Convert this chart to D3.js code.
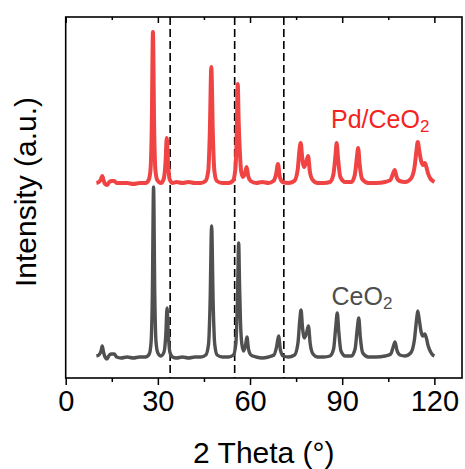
<!DOCTYPE html>
<html>
<head>
<meta charset="utf-8">
<script src="https://cdn.jsdelivr.net/npm/d3@7"></script>
<style>
  body { margin: 0; background: #fff; }
  svg { display: block; font-family: Arial, "Liberation Sans", sans-serif; }
</style>
</head>
<body>
<script>
// XRD patterns (2 theta in degrees, intensity in a.u.)
const ceo2Theta = [10.0, 10.8, 11.5, 11.9, 12.3, 12.8, 13.4, 14.2, 15.0, 15.8, 16.6, 18, 20, 22, 24, 26,
  27.2, 27.8, 28.2, 28.6, 29.0, 29.4, 30.0, 31.0, 32.0, 32.6, 33.0, 33.4, 33.9, 34.8, 36, 38, 40, 42, 44,
  45.6, 46.5, 47.0, 47.5, 48.0, 48.5, 49.3, 51, 53, 54.6, 55.4, 55.9, 56.3, 56.6, 56.9, 57.3, 57.9, 58.5,
  59.0, 59.5, 60.3, 62, 64, 66, 67.8, 68.7, 69.3, 69.9, 70.8, 72.5, 74.5, 75.6, 76.2, 76.6, 77.1, 77.7,
  78.4, 79.0, 79.6, 80.5, 82, 84, 86, 87.2, 87.9, 88.4, 88.9, 89.6, 91, 93, 94.2, 94.9, 95.4, 95.9, 96.7,
  98.5, 101, 104, 105.8, 106.6, 107.2, 107.8, 108.8, 110.5, 112.3, 113.5, 114.2, 114.6, 115.1, 115.7,
  116.3, 116.9, 117.4, 118.0, 118.8, 119.5, 120.0];
const ceo2Int = [2, 3, 7, 12, 6, 1, -1, 3, 4, 4, 1, 0, 1, 0, 1, 1,
  4, 16, 62, 171, 62, 16, 5, 2, 6, 24, 50, 24, 6, 1, 0, 1, 0, 1, 1,
  3, 14, 55, 132, 55, 14, 3, 1, 1, 3, 15, 57, 115, 72, 36, 15, 7, 12,
  21, 9, 3, 1, 0, 1, 3, 12, 22, 8, 2, 1, 3, 15, 38, 48, 30, 20,
  25, 32, 14, 4, 1, 1, 2, 9, 31, 45, 26, 7, 2, 2, 9, 29, 40, 21, 5,
  1, 1, 2, 4, 11, 16, 8, 3, 2, 5, 18, 38, 47, 38, 26,
  22, 24, 20, 12, 6, 3, 2];

const pdTheta = [10.0, 10.8, 11.5, 11.9, 12.3, 12.8, 13.4, 14.2, 15.0, 15.8, 16.6, 18, 20, 22, 24, 26,
  27.0, 27.6, 28.0, 28.4, 28.8, 29.2, 29.8, 31.0, 31.9, 32.5, 32.9, 33.3, 33.8, 34.8, 36, 38, 40, 42, 44,
  45.5, 46.4, 46.9, 47.4, 47.9, 48.4, 49.2, 51, 53, 54.4, 55.2, 55.7, 56.0, 56.3, 56.7, 57.1, 57.7, 58.4,
  58.9, 59.4, 60.2, 62, 64, 66, 67.6, 68.5, 69.1, 69.7, 70.6, 72.5, 74.4, 75.5, 76.1, 76.5, 77.0, 77.6,
  78.3, 78.9, 79.5, 80.4, 82, 84, 86, 87.1, 87.8, 88.2, 88.7, 89.4, 91, 93, 94.1, 94.8, 95.2, 95.7, 96.5,
  98.5, 101, 104, 105.7, 106.5, 107.1, 107.7, 108.7, 110.5, 112.3, 113.5, 114.2, 114.6, 115.1, 115.7,
  116.3, 116.9, 117.4, 118.0, 118.8, 119.5, 120.0];
const pdInt = [0, 1, 4, 7, 3, -1, -2, 1, 2, 2, 0, 0, 0, -1, 0, 0,
  3, 13, 54, 151, 54, 13, 3, 0, 4, 21, 45, 21, 4, 0, 1, 0, 1, 0, 0,
  2, 12, 49, 116, 49, 12, 2, 0, 0, 2, 13, 52, 99, 62, 31, 12, 6, 10,
  16, 7, 2, 0, 1, 0, 2, 9, 19, 6, 1, 0, 2, 13, 33, 40, 25, 16,
  21, 27, 11, 3, 0, 0, 1, 8, 27, 40, 23, 6, 1, 1, 8, 26, 35, 18, 4,
  0, 0, 1, 3, 9, 13, 6, 2, 1, 4, 15, 33, 41, 32, 22,
  18, 20, 16, 9, 4, 2, 1];
const pdOffset = 175;

const xTicks = [0, 30, 60, 90, 120];
const xMinorTicks = [15, 45, 75, 105];
const dashedAt = [34, 55, 71];

const W = 465, H = 469;
const mLeft = 65.7, mRight = 462, mTop = 17, mBottom = 378;

const svg = d3.select("body").append("svg")
  .attr("width", W)
  .attr("height", H);

const x = d3.scaleLinear().domain([0, 129]).range([mLeft, mRight]);
const y = d3.scaleLinear().domain([-20, 341]).range([mBottom, mTop]);

// dashed reference lines
svg.selectAll("line.ref")
  .data(dashedAt)
  .enter()
  .append("line")
  .attr("class", "ref")
  .attr("x1", d => x(d)).attr("x2", d => x(d))
  .attr("y1", mTop).attr("y2", mBottom)
  .attr("stroke", "#000")
  .attr("stroke-width", 1.6)
  .attr("stroke-dasharray", "8,4");

const line = d3.line()
  .x(d => x(d[0]))
  .y(d => y(d[1]))
  .curve(d3.curveMonotoneX);

const ceo2 = ceo2Theta.map((t, i) => [t, ceo2Int[i]]);
const pd = pdTheta.map((t, i) => [t, pdInt[i] + pdOffset]);

svg.append("path")
  .datum(ceo2)
  .attr("d", line)
  .attr("fill", "none")
  .attr("stroke", "#505050")
  .attr("stroke-width", 3.4)
  .attr("stroke-linejoin", "round");

svg.append("path")
  .datum(pd)
  .attr("d", line)
  .attr("fill", "none")
  .attr("stroke", "#F04444")
  .attr("stroke-width", 4)
  .attr("stroke-linejoin", "round");

// axes
const gx = svg.append("g")
  .attr("transform", "translate(0," + mBottom + ")")
  .call(d3.axisBottom(x).tickValues(xTicks).tickSize(7).tickPadding(5));
gx.select(".domain").remove();
gx.selectAll("line").attr("stroke-width", 1.5);
gx.selectAll("text")
  .attr("font-size", 29)
  .attr("font-family", "Arial, 'Liberation Sans', sans-serif")
  .attr("fill", "#000");

svg.append("g")
  .attr("transform", "translate(0," + mBottom + ")")
  .call(d3.axisBottom(x).tickValues(xMinorTicks).tickSize(4).tickFormat(""))
  .call(g => g.select(".domain").remove())
  .selectAll("line").attr("stroke-width", 1.5);

// mirrored ticks on top, pointing inward
svg.append("g")
  .attr("transform", "translate(0," + mTop + ")")
  .call(d3.axisBottom(x).tickValues(xTicks).tickSize(6).tickFormat(""))
  .call(g => g.select(".domain").remove())
  .selectAll("line").attr("stroke-width", 1.5);
svg.append("g")
  .attr("transform", "translate(0," + mTop + ")")
  .call(d3.axisBottom(x).tickValues(xMinorTicks).tickSize(3).tickFormat(""))
  .call(g => g.select(".domain").remove())
  .selectAll("line").attr("stroke-width", 1.5);

// frame
svg.append("rect")
  .attr("x", mLeft).attr("y", mTop)
  .attr("width", mRight - mLeft).attr("height", mBottom - mTop)
  .attr("fill", "none")
  .attr("stroke", "#000")
  .attr("stroke-width", 1.6);

// series labels
const lab1 = svg.append("text")
  .attr("x", 331).attr("y", 128)
  .attr("font-size", 25)
  .attr("fill", "#F52222");
lab1.append("tspan").text("Pd/CeO");
lab1.append("tspan").attr("font-size", 17).attr("dy", 4).text("2");

const lab2 = svg.append("text")
  .attr("x", 331.5).attr("y", 305)
  .attr("font-size", 25)
  .attr("fill", "#4D4D4D");
lab2.append("tspan").text("CeO");
lab2.append("tspan").attr("font-size", 17).attr("dy", 4).text("2");

// axis titles
svg.append("text")
  .attr("x", (mLeft + mRight) / 2).attr("y", 463)
  .attr("text-anchor", "middle")
  .attr("font-size", 30)
  .text("2 Theta (°)");

svg.append("text")
  .attr("transform", "translate(36,192) rotate(-90)")
  .attr("text-anchor", "middle")
  .attr("font-size", 30)
  .text("Intensity (a.u.)");
</script>
</body>
</html>
